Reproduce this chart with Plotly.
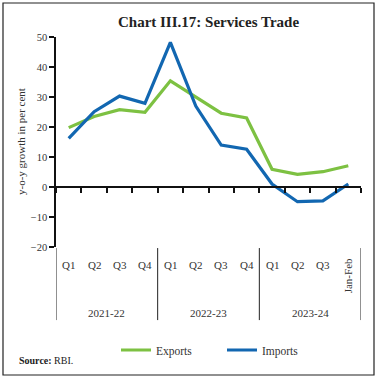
import plotly.graph_objects as go

quarters = ["Q1", "Q2", "Q3", "Q4", "Q1", "Q2", "Q3", "Q4", "Q1", "Q2", "Q3", "Jan-Feb"]
years = ["2021-22", "2022-23", "2023-24"]
year_sizes = [4, 4, 4]
exports = [19.8, 23.5, 25.8, 24.9, 35.4, 30.0, 24.6, 23.0, 5.9, 4.2, 5.1, 7.1]
imports = [16.2, 25.1, 30.3, 27.9, 48.2, 27.0, 14.0, 12.6, 1.0, -4.9, -4.6, 1.0]
y_ticks = [-20, -10, 0, 10, 20, 30, 40, 50]

GREEN = "#7DC142"
BLUE = "#1267B1"
FONT = "Liberation Serif"
TXT = "#333333"

xs = [i + 0.5 for i in range(len(quarters))]

fig = go.Figure()
fig.add_trace(go.Scatter(x=xs, y=exports, mode="lines", name="Exports",
                         line=dict(color=GREEN, width=3.2)))
fig.add_trace(go.Scatter(x=xs, y=imports, mode="lines", name="Imports",
                         line=dict(color=BLUE, width=3.2)))

ymin, ymax = -20, 50
zero_pos = (0 - ymin) / (ymax - ymin)

annotations = []
for i, q in enumerate(quarters):
    if q == "Jan-Feb":
        annotations.append(dict(x=xs[i], y=(247 - 276) / 210, xref="x", yref="paper", text=q,
                                showarrow=False, textangle=-90, xanchor="center", yanchor="middle",
                                font=dict(family=FONT, size=11, color=TXT)))
    else:
        annotations.append(dict(x=xs[i], y=(247 - 265) / 210, xref="x", yref="paper", text=q,
                                showarrow=False, xanchor="center", yanchor="middle",
                                font=dict(family=FONT, size=11, color=TXT)))

shapes = []
start = 0
bounds = [0]
for yr, n in zip(years, year_sizes):
    annotations.append(dict(x=start + n / 2, y=(247 - 313) / 210, xref="x", yref="paper", text=yr,
                            showarrow=False, xanchor="center", yanchor="middle",
                            font=dict(family=FONT, size=11, color=TXT)))
    start += n
    bounds.append(start)
for b in bounds:
    shapes.append(dict(type="line", xref="x", yref="paper", x0=b, x1=b, y0=-0.005, y1=-0.348,
                       line=dict(color="#222222", width=1)))

# outer border
shapes.append(dict(type="rect", xref="paper", yref="paper",
                   x0=(3 - 56) / 305, x1=(374 - 56) / 305,
                   y0=(247 - 375) / 210, y1=(247 - 3) / 210,
                   line=dict(color="#222222", width=1.2)))

# y-axis title
annotations.append(dict(x=(21 - 56) / 305, y=0.5, xref="paper", yref="paper",
                        xanchor="center", yanchor="middle", showarrow=False, textangle=-90,
                        text="y-o-y growth in per cent", font=dict(family=FONT, size=11, color=TXT)))

annotations.append(dict(x=(17 - 56) / 305, y=(247 - 361) / 210, xref="paper", yref="paper",
                        xanchor="left", yanchor="middle", showarrow=False,
                        text="<b>Source:</b> RBI.", font=dict(family=FONT, size=10, color="#222222")))

fig.update_layout(
    width=377, height=380,
    margin=dict(l=56, r=16, t=37, b=133),
    paper_bgcolor="white", plot_bgcolor="white",
    title=dict(text="<b>Chart III.17: Services Trade</b>", x=0.5, xref="paper", xanchor="center",
               y=1 - 22 / 380, yanchor="middle",
               font=dict(family=FONT, size=15, color="#222222")),
    showlegend=True,
    legend=dict(orientation="h", x=(123 - 7) / 377, xanchor="left", xref="container",
                y=1 - 350 / 380, yref="container", yanchor="middle",
                itemwidth=30, entrywidth=61, entrywidthmode="pixels",
                font=dict(family=FONT, size=11.5, color=TXT)),
    xaxis=dict(range=[0, 12], anchor="free", position=zero_pos,
               tickvals=list(range(13)), showticklabels=False,
               ticks="outside", ticklen=5, tickwidth=1.5, tickcolor="#111111",
               showline=True, linecolor="#111111", linewidth=1.5,
               showgrid=False, zeroline=False, fixedrange=True),
    yaxis=dict(range=[ymin, ymax], tickvals=y_ticks, ticks="outside", ticklen=5,
               tickwidth=1.5, tickcolor="#111111",
               showline=True, linecolor="#111111", linewidth=1.5,
               showgrid=False, zeroline=False, automargin=False,
               tickfont=dict(family=FONT, size=10.5, color=TXT)),
    annotations=annotations,
    shapes=shapes,
)

fig.write_html("out.html", config={"displayModeBar": False},
               post_script="document.body.style.margin='0';document.body.style.padding='0';")
